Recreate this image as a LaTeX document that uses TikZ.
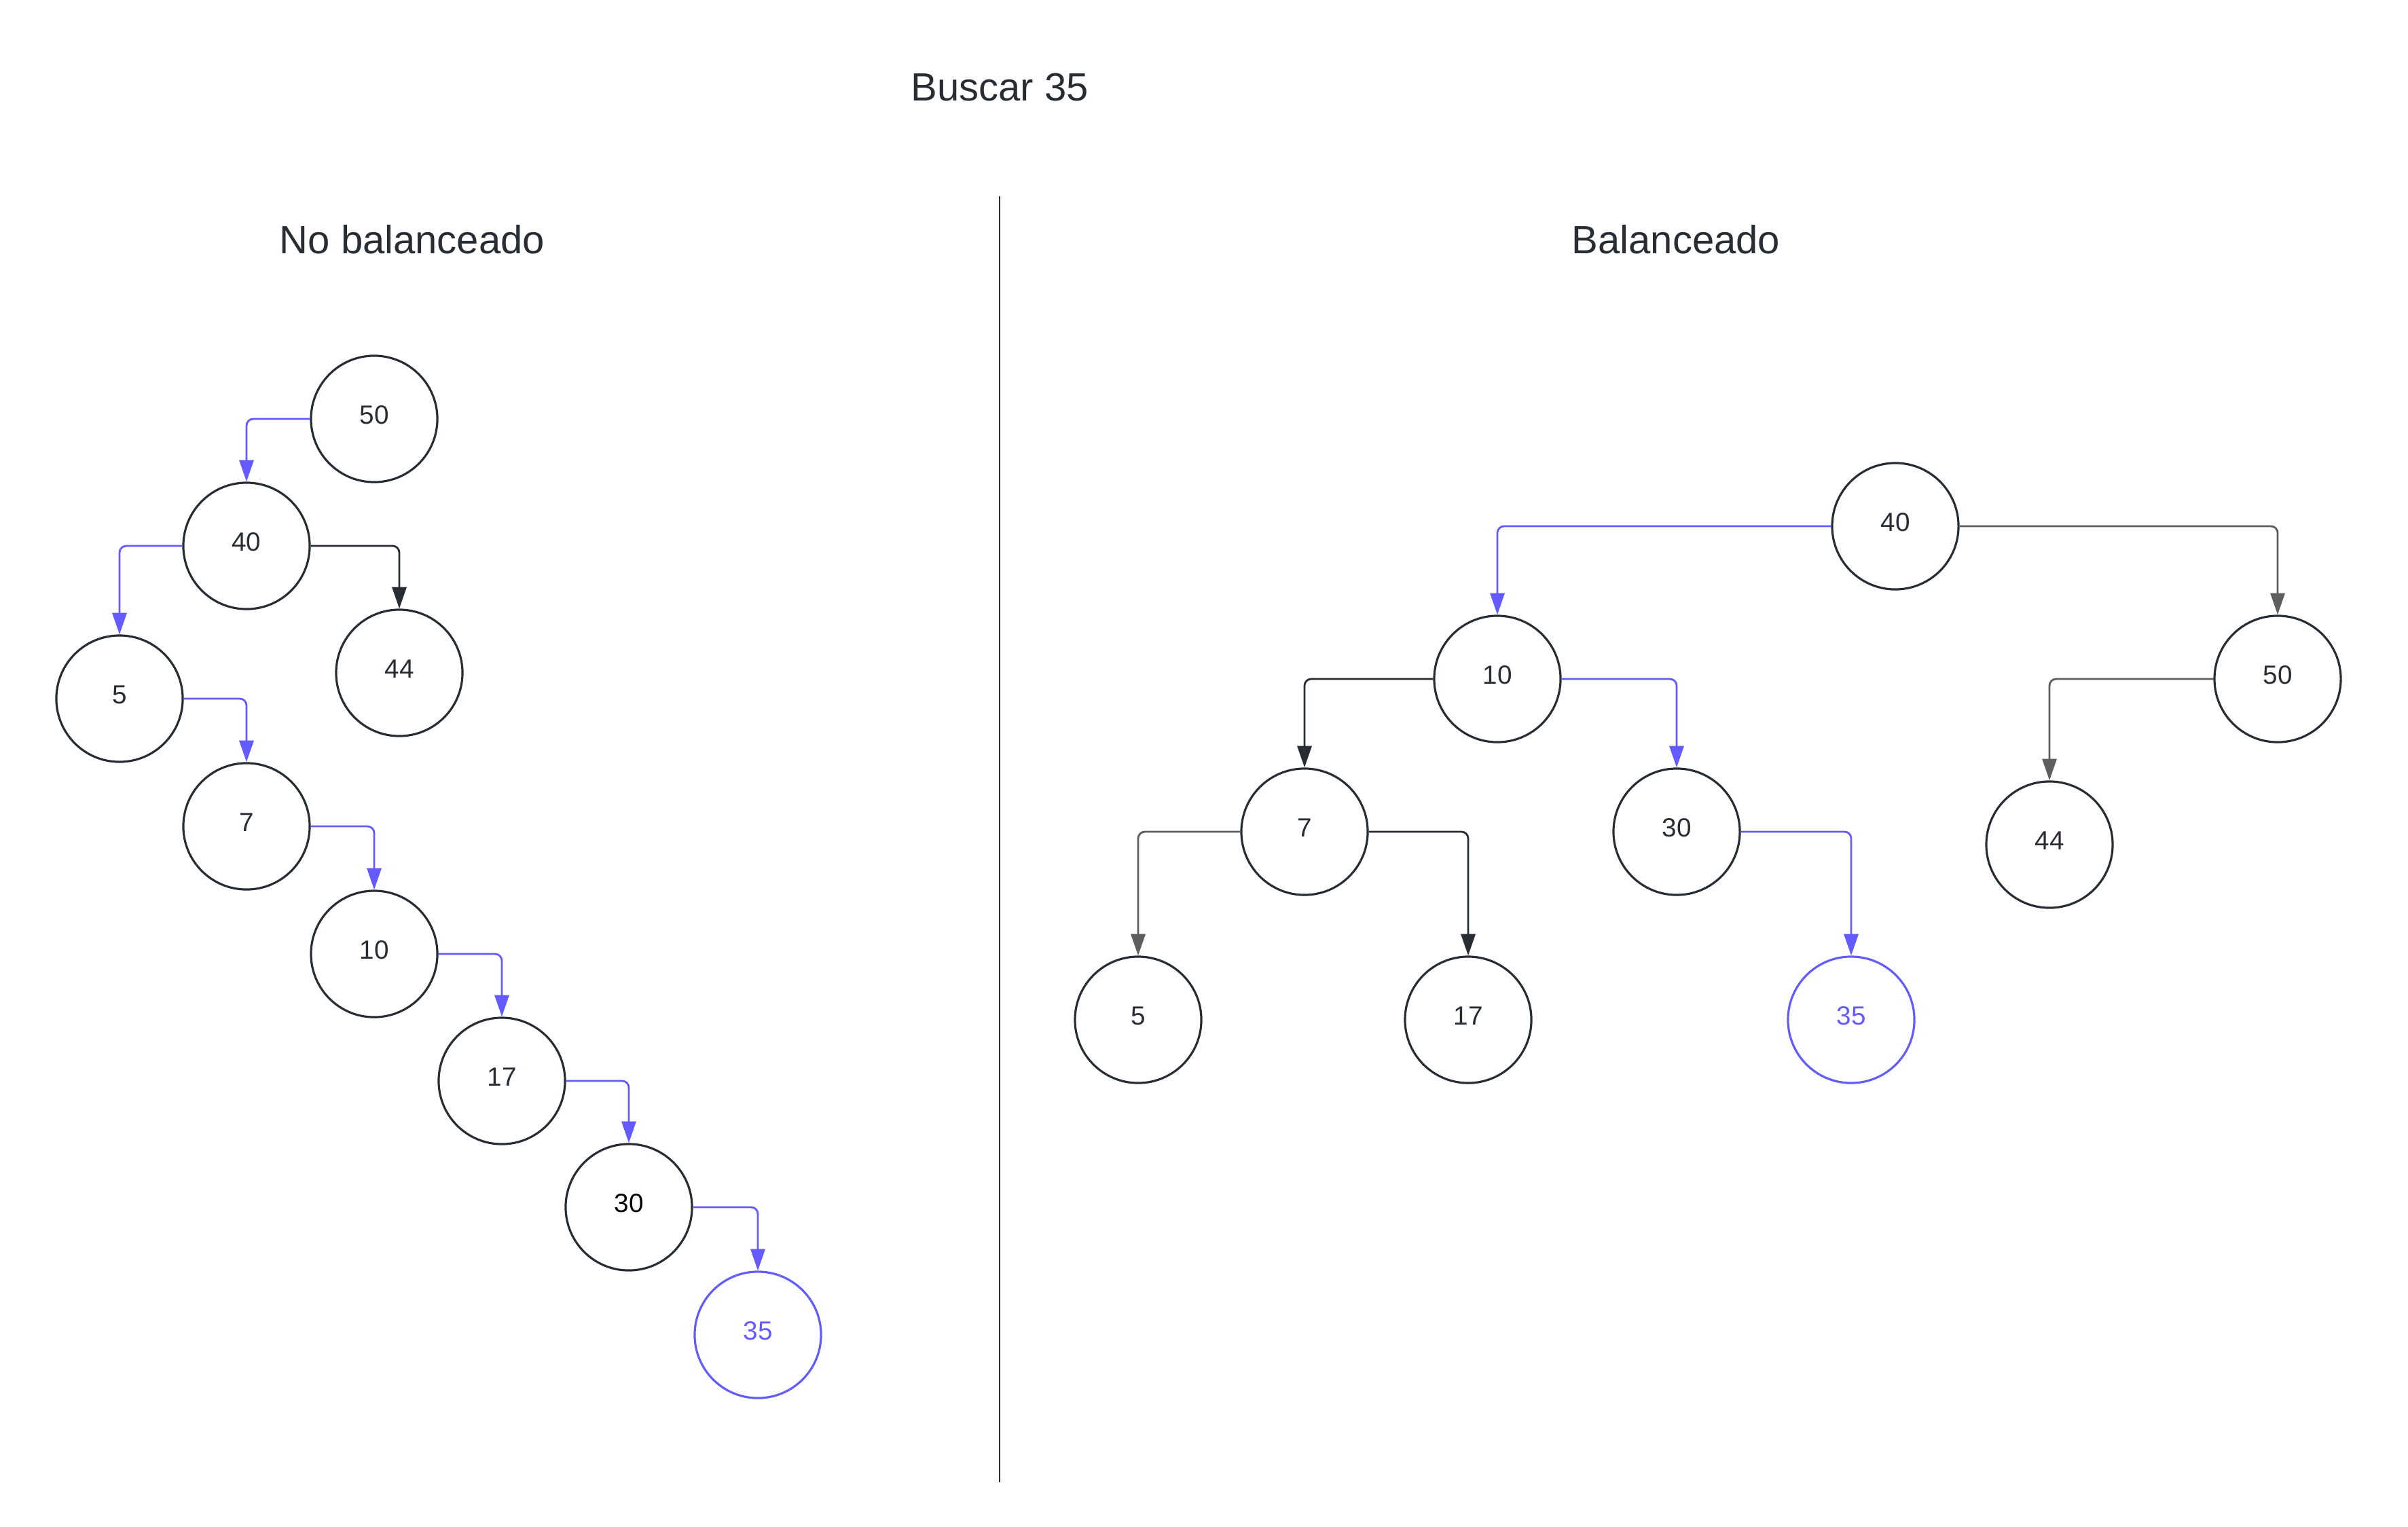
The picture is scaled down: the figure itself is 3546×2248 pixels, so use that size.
\documentclass[tikz,border=0pt]{standalone}
\usepackage{fontspec}
\setmainfont{Liberation Sans}
\usepackage{tikz}
\usetikzlibrary{arrows.meta}
\usetikzlibrary{positioning}

\definecolor{ink}{HTML}{282C33}
\definecolor{sel}{HTML}{635BFF}
\definecolor{dim}{HTML}{5E5E5E}

\begin{document}
\begin{tikzpicture}[x=0.01cm, y=-0.01cm]
	\useasboundingbox (0,0) rectangle (3546,2248);

	% titles
	\begin{scope}[every node/.style={text=ink, font=\fontsize{16.5}{19}\selectfont, anchor=base}]
		\node (title) at (1472,148) {Buscar 35};
		\node (unbal) at (607,373) {No balanceado};
		\node (bal) at (2468,373) {Balanceado};
	\end{scope}
	\coordinate (sepTop) at (1472,289);
	\coordinate (sepBot) at (1472,2183);
	\draw[ink, line width=0.8pt] (sepTop) -- (sepBot);

	\begin{scope}[every node/.style={circle, draw=ink, line width=0.9pt, text=ink,
	              minimum size=1.86cm, inner sep=0pt, text depth=0.12cm,
	              font=\fontsize{11}{13}\selectfont}]
		% no balanceado
		\node (l50) at (551,617) {50};
		\node (l40) at (363,804) {40};
		\node (l44) at (588,991) {44};
		\node (l5) at (176,1029) {5};
		\node (l7) at (363,1217) {7};
		\node (l10) at (551,1405) {10};
		\node (l17) at (739,1592) {17};
		\node[text=black] (l30) at (926,1778) {30};
		\node[draw=sel, text=sel] (l35) at (1116,1966) {35};
		% balanceado
		\node (r40) at (2791,775) {40};
		\node (r10) at (2205,1000) {10};
		\node (r50) at (3354,1000) {50};
		\node (r7) at (1921,1225) {7};
		\node (r30) at (2469,1225) {30};
		\node (r44) at (3018,1244) {44};
		\node (r5) at (1676,1502) {5};
		\node (r17) at (2162,1502) {17};
		\node[draw=sel, text=sel] (r35) at (2726,1502) {35};
	\end{scope}

	\begin{scope}[>={Triangle[length=9pt, width=6pt]},
	              every edge/.style={draw=ink, line width=0.8pt, ->, rounded corners=2.8pt,
	                                 to path={-| (\tikztotarget)}}]
		\path (l50.west) edge[draw=sel] (l40.north);
		\path (l40.east) edge (l44.north);
		\path (l40.west) edge[draw=sel] (l5.north);
		\foreach \a/\b in {5/7,7/10,10/17,17/30,30/35}
		{\path (l\a.east) edge[draw=sel] (l\b.north);}

		\path (r40.west) edge[draw=sel] (r10.north);
		\path (r40.east) edge[draw=dim] (r50.north);
		\path (r10.west) edge (r7.north);
		\path (r10.east) edge[draw=sel] (r30.north);
		\path (r50.west) edge[draw=dim] (r44.north);
		\path (r7.west) edge[draw=dim] (r5.north);
		\path (r7.east) edge (r17.north);
		\path (r30.east) edge[draw=sel] (r35.north);
	\end{scope}
\end{tikzpicture}
\end{document}
